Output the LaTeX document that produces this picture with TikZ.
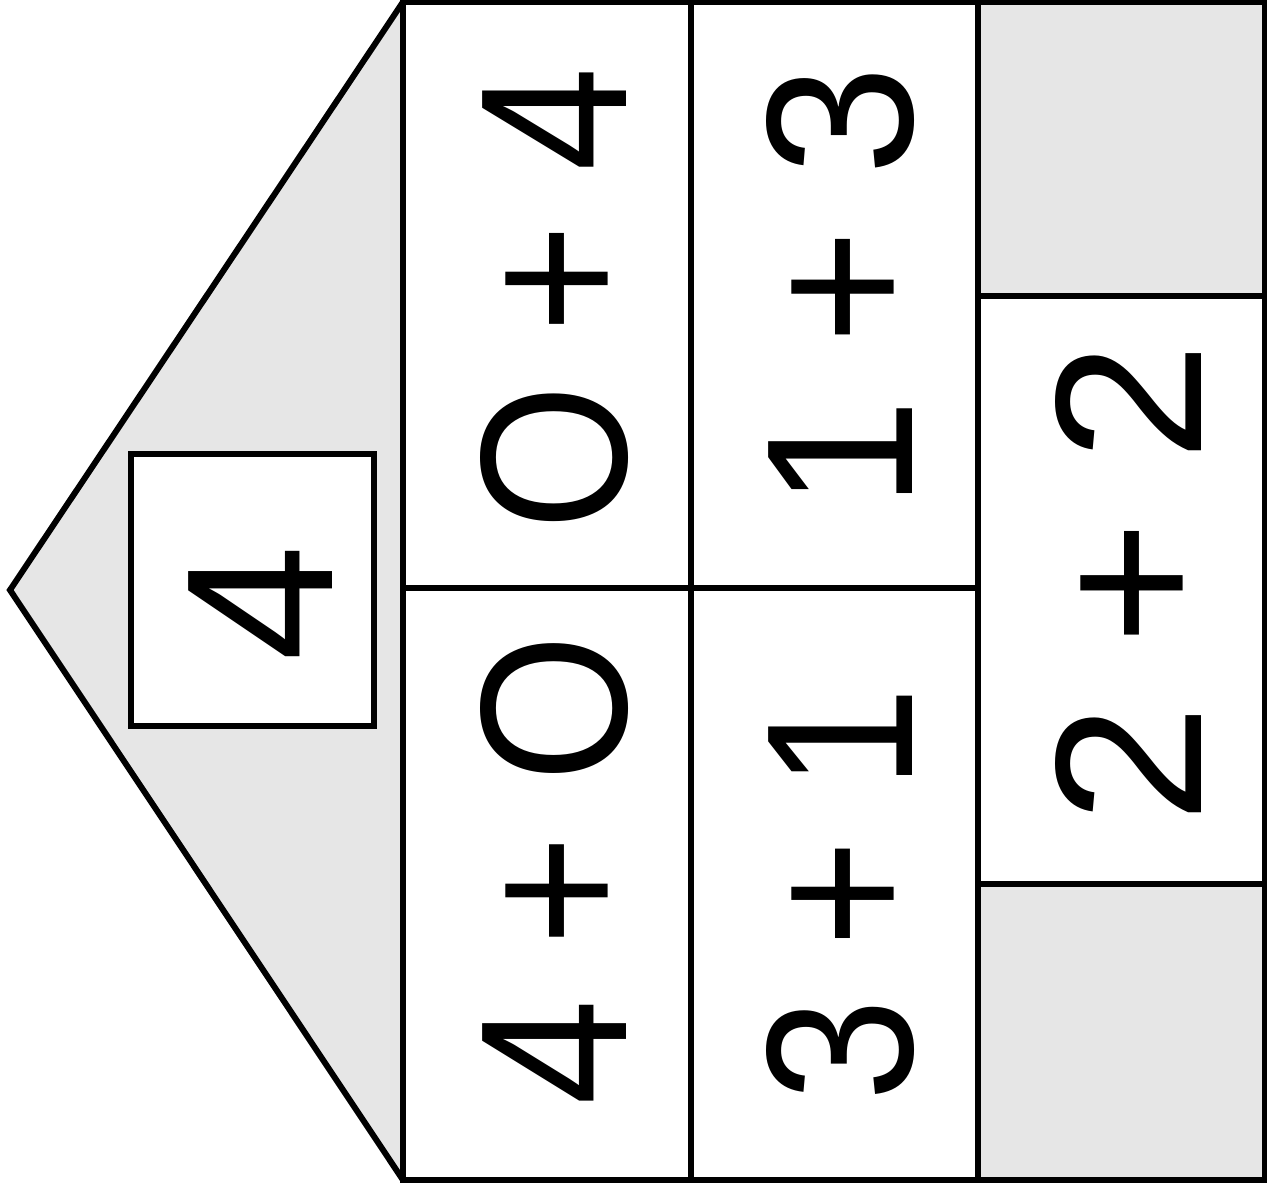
\documentclass[tikz,border=0pt]{standalone}
\usepackage{fontspec}
\setmainfont{Liberation Sans}
\definecolor{roofgray}{RGB}{230,230,230}
\begin{document}
\begin{tikzpicture}[x=1cm,y=1cm,line width=1.7pt,font=\fontsize{59.5}{60}\selectfont]
\tikzset{sum/.style={rotate=90,inner sep=0pt}}
\useasboundingbox (0,0) rectangle (12.67,11.88);
\filldraw[fill=roofgray] (4.03,11.86)--(0.10,5.98)--(4.03,0.08);
\fill[roofgray] (9.78,8.92) rectangle (12.65,11.86);
\fill[roofgray] (9.78,0.08) rectangle (12.65,3.04);
\draw (4.03,0.08) rectangle (12.65,11.86);
\draw (6.91,0.08)--(6.91,11.86);
\draw (9.78,0.08)--(9.78,11.86);
\draw (4.03,6.00)--(9.78,6.00);
\draw (9.78,8.92)--(12.65,8.92);
\draw (9.78,3.04)--(12.65,3.04);
\filldraw[fill=white] (1.31,4.62) rectangle (3.74,7.34);
\node[sum] (four) at (2.61,5.85) {4};
\node[sum] (o4) at (5.55,8.89) {\scalebox{0.895}[1]{O + 4}};
\node[sum] (f0) at (5.55,3.18) {\scalebox{0.91}[1]{4 + O}};
\node[sum] (o3) at (8.41,9.01) {\scalebox{0.94}[1]{1 + 3}};
\node[sum] (t1) at (8.41,2.94) {\scalebox{0.88}[1]{3 + 1}};
\node[sum] (tt) at (11.28,6.05) {\scalebox{1.02}[1]{2 + 2}};
\end{tikzpicture}
\end{document}
